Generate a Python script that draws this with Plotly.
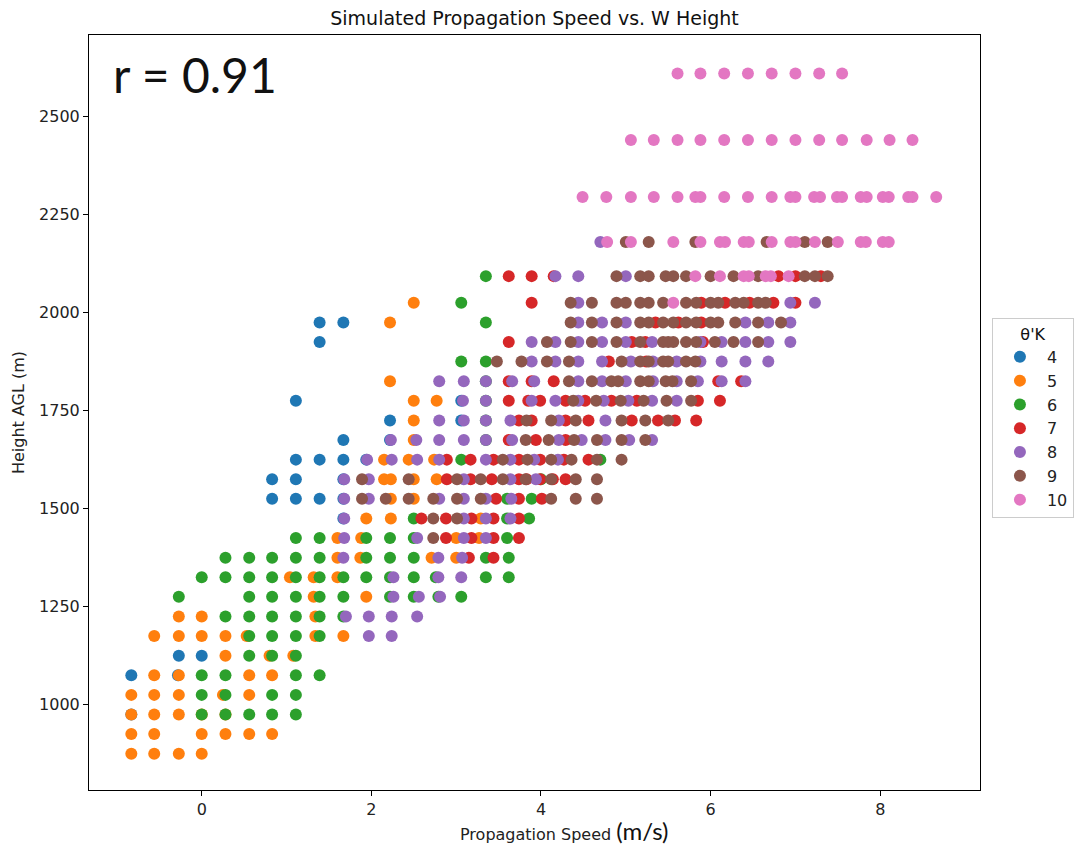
import plotly.graph_objects as go

# Propagation speed (m/s) of each simulated W, grouped by height AGL (m),
# one table per potential-temperature perturbation (theta' in K).
theta_4 = {
    975: [-0.83],
    1075: [-0.83, -0.28],
    1125: [-0.27, 0.00],
    1475: [1.67],
    1525: [0.83, 1.11, 1.39, 1.67],
    1575: [0.83, 1.11, 1.67],
    1625: [1.11, 1.39, 1.67, 1.94],
    1675: [1.67, 2.22],
    1725: [2.22, 3.06],
    1775: [1.11, 3.06],
    1925: [1.39],
    1975: [1.39, 1.67],
}

theta_5 = {
    875: [-0.83, -0.56, -0.27, 0.00],
    925: [-0.83, -0.56, 0.00, 0.28, 0.56, 0.83],
    975: [-0.83, -0.56, -0.27, 0.00, 0.28],
    1025: [-0.83, -0.56, -0.27, 0.25, 0.56],
    1075: [-0.56, -0.27, 0.56, 0.83],
    1125: [0.28, 0.80, 1.08],
    1175: [-0.56, -0.27, 0.00, 0.28, 0.53, 1.34, 1.67],
    1225: [-0.27, 0.00, 1.34],
    1275: [1.32, 1.94],
    1325: [1.04, 1.32, 1.60],
    1375: [1.60, 1.87, 2.71, 3.00],
    1425: [1.60, 1.88, 3.00, 3.27],
    1475: [1.94, 2.23, 3.29],
    1525: [2.23, 2.50],
    1575: [2.15, 2.23, 2.50, 2.77],
    1625: [2.15, 2.44, 2.74],
    1675: [2.50],
    1725: [2.50],
    1775: [2.50, 2.77],
    1825: [2.22],
    1975: [2.22],
    2025: [2.50],
}

theta_6 = {
    975: [0.00, 0.28, 0.56, 0.83, 1.11],
    1025: [0.00, 0.28, 0.83, 1.11],
    1075: [0.00, 0.28, 1.11, 1.39],
    1125: [0.56, 0.83, 1.11],
    1175: [0.56, 0.83, 1.11, 1.39],
    1225: [0.28, 0.56, 0.83, 1.11, 1.39, 1.67],
    1275: [-0.27, 0.56, 0.83, 1.11, 1.39, 1.67, 2.22, 2.50, 2.79, 3.06],
    1325: [0.00, 0.28, 0.56, 0.83, 1.11, 1.39, 1.67, 1.94, 2.22, 2.50, 2.76, 3.35, 3.62],
    1375: [0.28, 0.56, 0.83, 1.11, 1.39, 1.94, 2.22, 2.50, 3.35, 3.62],
    1425: [1.11, 1.39, 1.94, 2.22, 2.50, 3.60],
    1475: [2.50, 3.60, 3.86],
    1525: [3.60, 3.89],
    1575: [4.00],
    1625: [3.06, 4.70],
    1675: [3.35],
    1725: [3.35],
    1775: [3.35],
    1825: [3.35],
    1875: [3.06, 3.35],
    1975: [3.35],
    2025: [3.06],
    2093: [3.35],
}

theta_7 = {
    1375: [3.15, 3.44],
    1425: [2.88, 3.18, 3.44, 3.74],
    1475: [2.59, 2.88, 3.18, 3.44, 3.74],
    1525: [3.47, 3.74, 4.01],
    1575: [2.89, 3.17, 3.42, 3.74, 3.83, 3.99, 4.14, 4.29],
    1625: [2.89, 3.17, 3.44, 3.74, 3.99, 4.27, 4.56],
    1675: [3.62, 3.94, 4.29],
    1725: [3.74, 3.89, 4.29, 4.56, 5.07, 5.38, 5.58, 5.83],
    1775: [3.62, 3.85, 3.99, 4.29, 4.52, 4.83, 5.13, 5.85, 6.11],
    1825: [3.62, 3.89, 4.15, 6.09, 6.36],
    1875: [4.80, 5.24],
    1925: [3.62, 5.07, 5.23, 5.91],
    1975: [5.35, 5.62, 5.89],
    2025: [3.89, 5.89, 6.17, 6.46, 6.74, 7.00],
    2093: [3.62, 3.89, 4.15, 6.80, 7.00, 7.30],
}

theta_8 = {
    1175: [1.97, 2.24],
    1225: [1.70, 1.97, 2.24, 2.54],
    1275: [2.26, 2.56, 2.81],
    1325: [2.26, 2.79, 3.06],
    1375: [1.67, 2.79, 3.07],
    1425: [1.68, 2.54, 3.09, 3.35],
    1475: [1.68, 3.09, 3.35, 3.64],
    1525: [1.68, 1.97, 2.80, 3.09, 3.35, 3.65],
    1575: [1.68, 1.97, 3.09, 3.64, 3.94],
    1625: [1.95, 2.24, 2.54, 2.80, 3.35, 3.64, 3.92, 4.20],
    1675: [2.23, 2.53, 2.80, 3.09, 3.35, 3.66, 4.21, 4.48, 4.76, 5.04, 5.31],
    1725: [2.80, 3.09, 3.35, 3.64, 4.21, 4.76],
    1775: [3.08, 3.35, 3.89, 4.17, 4.44, 4.74, 5.03, 5.31, 5.60],
    1825: [2.80, 3.09, 3.35, 3.66, 3.92, 4.44, 4.72, 5.00, 5.32, 5.60, 5.85, 6.13, 6.41],
    1875: [3.89, 4.17, 4.44, 4.72, 5.06, 5.32, 5.60, 5.88, 6.13, 6.41, 6.68],
    1925: [3.89, 4.17, 4.44, 4.72, 5.00, 5.31, 5.88, 6.13, 6.41, 6.68, 6.94],
    1975: [4.44, 4.72, 5.00, 6.41, 6.68, 6.94],
    2025: [4.44, 6.94, 7.23],
    2093: [4.17, 4.44, 5.00],
    2180: [4.70],
}

theta_9 = {
    1425: [2.73],
    1475: [2.73, 3.01],
    1525: [1.89, 2.17, 2.44, 2.73, 3.01, 3.29, 4.12, 4.41, 4.66],
    1575: [1.89, 2.44, 3.01, 3.29, 3.55, 3.82, 4.12, 4.41, 4.66],
    1625: [3.55, 3.84, 4.12, 4.36, 4.66, 4.95],
    1675: [3.82, 4.09, 4.39, 4.66, 4.95, 5.23],
    1725: [3.83, 4.12, 4.41, 4.95, 5.23, 5.50],
    1775: [4.38, 4.65, 4.94, 5.21, 5.48, 5.77],
    1825: [4.33, 4.60, 4.83, 4.91, 5.17, 5.27, 5.47, 5.55, 5.77],
    1875: [3.48, 3.77, 4.07, 4.33, 4.95, 5.17, 5.27, 5.44, 5.50, 5.71, 5.82],
    1925: [4.07, 4.35, 4.60, 4.89, 5.17, 5.44, 5.50, 5.56, 5.71, 5.83, 6.05, 6.27, 6.56],
    1975: [4.35, 4.60, 4.89, 5.17, 5.27, 5.44, 5.56, 5.71, 5.83, 6.00, 6.09, 6.29, 6.56, 6.83],
    2025: [4.35, 4.60, 4.89, 5.00, 5.17, 5.27, 5.44, 5.71, 5.83, 6.00, 6.09, 6.29, 6.39, 6.56, 6.65],
    2093: [4.89, 5.17, 5.27, 5.47, 5.56, 5.71, 6.00, 6.27, 6.56, 7.11, 7.23, 7.38],
    2180: [5.00, 5.27, 5.82, 6.66, 7.11, 7.38],
}

theta_10 = {
    2025: [5.56],
    2093: [5.82, 6.11, 6.39, 6.45, 6.65, 6.71, 6.92],
    2180: [4.78, 5.06, 5.56, 5.88, 6.11, 6.17, 6.39, 6.45, 6.72, 6.94, 7.00,
           7.23, 7.50, 7.77, 7.83, 8.03, 8.10],
    2295: [4.49, 4.77, 5.06, 5.33, 5.61, 5.82, 5.88, 6.16, 6.44, 6.72, 6.94, 7.00,
           7.22, 7.29, 7.49, 7.55, 7.77, 7.84, 8.03, 8.10, 8.33, 8.38, 8.66],
    2440: [5.06, 5.33, 5.61, 5.88, 6.16, 6.44, 6.72, 7.00, 7.28, 7.55, 7.84, 8.11, 8.38],
    2610: [5.61, 5.88, 6.16, 6.44, 6.72, 7.00, 7.28, 7.55],
}

theta_labels = ["4", "5", "6", "7", "8", "9", "10"]
theta_tables = [theta_4, theta_5, theta_6, theta_7, theta_8, theta_9, theta_10]
theta_colors = ["#1f77b4", "#ff7f0e", "#2ca02c", "#d62728",
                "#9467bd", "#8c564b", "#e377c2"]

x_ticks = [0, 2, 4, 6, 8]
y_ticks = [1000, 1250, 1500, 1750, 2000, 2250, 2500]
r_value = 0.91

BASE_FONT = "DejaVu Sans"

fig = go.Figure()
for label, table, color in zip(theta_labels, theta_tables, theta_colors):
    xs, ys = [], []
    for height, speeds in table.items():
        xs.extend(speeds)
        ys.extend([height] * len(speeds))
    fig.add_trace(go.Scatter(
        x=xs, y=ys, mode="markers", name=label, legendgroup=label,
        marker=dict(color=color, size=12, line=dict(width=0)),
    ))

axis_common = dict(
    showline=True, linecolor="black", linewidth=1, mirror=True,
    ticks="outside", ticklen=5, tickwidth=1, tickcolor="black",
    showgrid=False, zeroline=False,
    tickfont=dict(family=BASE_FONT, size=16, color="#222"),
)

fig.update_xaxes(range=[-1.329, 9.176], tickvals=x_ticks, **axis_common)
fig.update_yaxes(
    range=[782.4, 2708], tickvals=y_ticks,
    title=dict(text="Height AGL (m)",
               font=dict(family=BASE_FONT, size=16, color="#222"), standoff=10),
    **axis_common,
)

# x-axis caption, with the unit set in a larger face
fig.add_annotation(
    text="Propagation Speed <span style='font-family:Lato;font-size:24px;color:#111'>(m/s)</span>",
    xref="paper", yref="paper", x=0.4143, y=-0.0543,
    xanchor="left", yanchor="middle", showarrow=False,
    font=dict(family=BASE_FONT, size=16, color="#222"),
)

fig.add_annotation(
    text=f"r = {r_value:.2f}", xref="paper", yref="paper",
    x=0.025, y=0.948, xanchor="left", yanchor="middle", showarrow=False,
    font=dict(family="Lato", size=48, color="#111"),
)

fig.update_layout(
    width=1086, height=848,
    margin=dict(l=89, r=104, t=35, b=58),
    paper_bgcolor="white", plot_bgcolor="white",
    title=dict(text="Simulated Propagation Speed vs. W Height",
               x=0.5, xref="paper", xanchor="center",
               y=1 - 18 / 848, yref="container", yanchor="middle",
               font=dict(family=BASE_FONT, size=19, color="#111")),
    legend=dict(
        title=dict(text="θ'K", side="top center",
                   font=dict(family=BASE_FONT, size=16, color="#111")),
        x=1.0134, y=0.625, xanchor="left", yanchor="top",
        bgcolor="white", bordercolor="#cccccc", borderwidth=1,
        font=dict(family=BASE_FONT, size=16, color="#222"),
        itemwidth=44, tracegroupgap=0,
    ),
    showlegend=True,
)

fig.write_html("out.html")
